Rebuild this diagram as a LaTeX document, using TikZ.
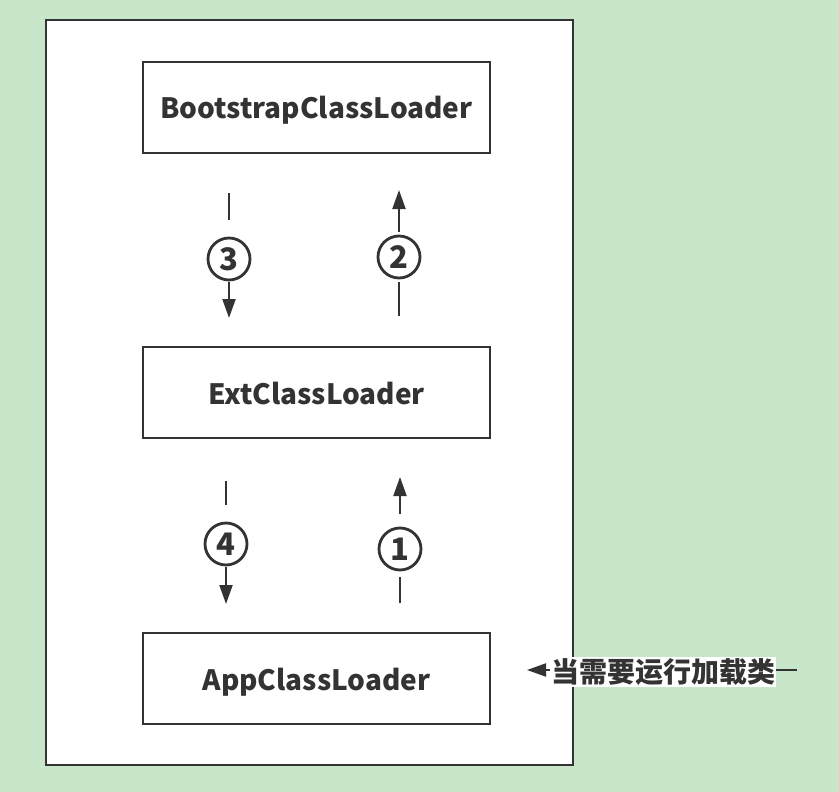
\documentclass[tikz,border=0pt]{standalone}
\usepackage{fontspec}
\setmainfont{Noto Sans CJK SC}
\usetikzlibrary{arrows.meta}
\definecolor{bggreen}{HTML}{C8E6C9}
\definecolor{ink}{HTML}{333333}
\tikzset{
    loaderbox/.style={draw=ink, line width=2pt, fill=white, minimum width=347pt, minimum height=91pt, inner sep=0pt, text height=27pt, text depth=4pt, font=\fontsize{28}{30}\selectfont\bfseries, text=ink},
    stepnum/.style={circle, draw=ink, line width=2.8pt, minimum size=42pt, inner sep=0pt, font=\fontsize{31}{32}\selectfont\bfseries, text=ink},
    flow/.style={draw=ink, line width=2pt, -{Triangle[length=19pt,width=13pt]}},
    plain/.style={draw=ink, line width=2pt}
}
\begin{document}
\begin{tikzpicture}[x=1pt,y=-1pt]
    \fill[bggreen] (0,0) rectangle (839,792);
    \draw[ink, line width=2pt, fill=white] (46,20) rectangle (573,765);

    \node[loaderbox] (boot) at (316.5,107.5) {BootstrapClassLoader};
    \node[loaderbox] (ext) at (316.5,392.5) {ExtClassLoader};
    \node[loaderbox] (app) at (316.5,678.5) {AppClassLoader};

    % numbered steps
    \foreach \n/\x/\y in {3/229/259, 2/399/257, 4/226/544, 1/400/549}
        \node[stepnum] (s\n) at (\x,\y) {\n};

    % downward: line, number, arrow
    \coordinate (a3) at (229,193);
    \coordinate (b3) at (229,318);
    \coordinate (a4) at (226,481);
    \coordinate (b4) at (226,604);
    \draw[plain] (a3) -- ([yshift=17pt]s3.north);
    \draw[flow] ([yshift=-1pt]s3.south) -- (b3);
    \draw[plain] (a4) -- ([yshift=17pt]s4.north);
    \draw[flow] ([yshift=-1pt]s4.south) -- (b4);

    % upward: line, number, arrow
    \coordinate (a2) at (399,316);
    \coordinate (b2) at (399,190);
    \coordinate (a1) at (400,603);
    \coordinate (b1) at (400,477);
    \draw[plain] (a2) -- ([yshift=-3pt]s2.south);
    \draw[flow] ([yshift=3pt]s2.north) -- (b2);
    \draw[plain] (a1) -- ([yshift=-6pt]s1.south);
    \draw[flow] ([yshift=13pt]s1.north) -- (b1);

    % request comes in
    \coordinate (req) at (797,670);
    \coordinate (tip) at (527,670);
    \draw[flow] (req) -- (tip);
    \node[fill=white, inner sep=1pt, font=\fontsize{28}{30}\selectfont\bfseries, text=ink] (ask) at (663,672) {当需要运行加载类};
\end{tikzpicture}
\end{document}
